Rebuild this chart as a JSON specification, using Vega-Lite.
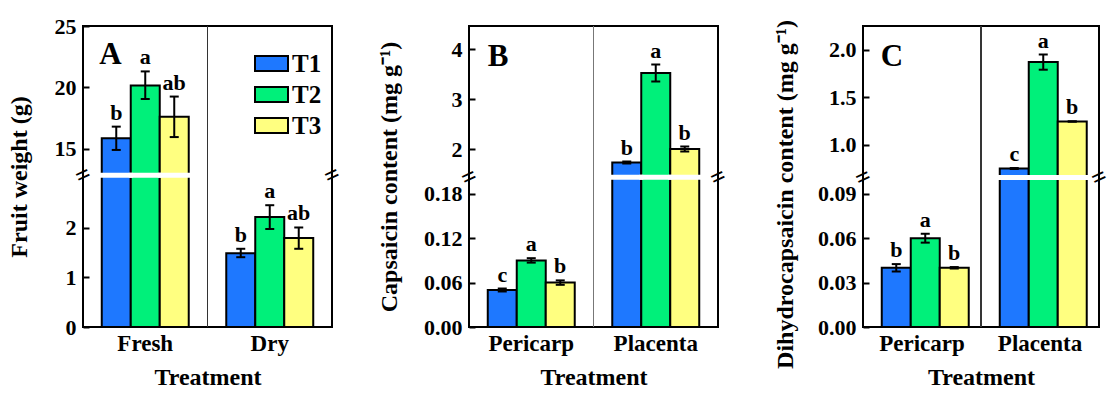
{
  "$schema": "https://vega.github.io/schema/vega-lite/v6.json",
  "background": "white",
  "padding": {"left": 6, "top": 14, "right": 0, "bottom": 4},
  "config": {
    "font": "Liberation Serif",
    "view": {"stroke": "black", "strokeWidth": 2},
    "axis": {"labelFont": "Liberation Serif", "labelFontWeight": "bold", "labelColor": "black", "titleFont": "Liberation Serif", "titleFontWeight": "bold", "titleColor": "black", "titleFontSize": 24, "labelFontSize": 22},
    "axisX": {"domain": false, "ticks": false, "grid": false, "labelPadding": 5, "labelFontSize": 23, "titlePadding": 10, "labelAngle": 0},
    "axisY": {"domain": false, "grid": false, "tickSize": -6, "tickWidth": 2, "tickColor": "black", "labelPadding": 13, "titlePadding": 16},
    "text": {"font": "Liberation Serif", "fontWeight": "bold", "color": "black"},
    "legend": {"labelFont": "Liberation Serif", "labelFontWeight": "bold", "labelColor": "black"}
  },
  "resolve": {"scale": {"color": "independent"}, "legend": {"color": "independent"}},
  "bounds": "flush",
  "spacing": 137,
  "hconcat": [
    {
      "width": 249,
      "height": 301,
      "data": {"values": [
        {"group": "Fresh", "trt": "T1", "mean": 15.85, "lo": 14.9, "hi": 16.8, "letter": "b"},
        {"group": "Fresh", "trt": "T2", "mean": 20.15, "lo": 19.05, "hi": 21.3, "letter": "a"},
        {"group": "Fresh", "trt": "T3", "mean": 17.6, "lo": 15.95, "hi": 19.25, "letter": "ab"},
        {"group": "Dry", "trt": "T1", "mean": 1.49, "lo": 1.41, "hi": 1.58, "letter": "b"},
        {"group": "Dry", "trt": "T2", "mean": 2.22, "lo": 1.98, "hi": 2.46, "letter": "a"},
        {"group": "Dry", "trt": "T3", "mean": 1.8, "lo": 1.58, "hi": 2.01, "letter": "ab"}
      ]},
      "layer": [
        {
          "mark": {"type": "rule", "color": "#333333", "strokeWidth": 1},
          "encoding": {"x": {"datum": "Dry", "type": "nominal", "bandPosition": 0, "scale": {"domain": ["Fresh", "Dry"], "paddingInner": 0, "paddingOuter": 0}}}
        },
        {
          "mark": {"type": "bar", "stroke": "black", "strokeWidth": 2, "opacity": 1},
          "encoding": {
            "x": {"field": "group", "type": "nominal", "scale": {"domain": ["Fresh", "Dry"], "paddingInner": 0, "paddingOuter": 0}, "title": "Treatment"},
            "xOffset": {"field": "trt", "type": "nominal", "scale": {"paddingInner": 0, "paddingOuter": 0.647}},
            "y": {"field": "mean", "type": "quantitative", "title": "Fruit weight (g)",
                  "scale": {"type": "linear", "domain": [0, 3.05, 12.9, 25], "range": [301, 150, 148.5, 0], "nice": false, "zero": false},
                  "axis": {"values": [0, 1, 2, 15, 20, 25], "titlePadding": 23}},
            "y2": {"datum": 0},
            "color": {"field": "trt", "type": "nominal", "scale": {"domain": ["T1", "T2", "T3"], "range": ["#1E78FF", "#00F07A", "#FFFF80"]},
                      "legend": {"title": null, "orient": "none", "legendX": 171, "legendY": 20, "symbolType": "M-1,-0.45L1,-0.45L1,0.45L-1,0.45Z", "symbolSize": 1089, "symbolStrokeColor": "black", "symbolStrokeWidth": 2, "symbolOpacity": 1, "labelFontSize": 25, "labelOffset": 3, "rowPadding": -3}}
          }
        },
        {
          "transform": [{"filter": "datum.mean > 3.05"}],
          "mark": {"type": "tick", "color": "white", "thickness": 5, "size": 33, "opacity": 1},
          "encoding": {
            "x": {"field": "group", "type": "nominal"},
            "xOffset": {"field": "trt", "type": "nominal"},
            "y": {"datum": 8}
          }
        },
        {
          "mark": {"type": "rule", "color": "black", "strokeWidth": 2},
          "encoding": {
            "x": {"field": "group", "type": "nominal"},
            "xOffset": {"field": "trt", "type": "nominal"},
            "y": {"field": "lo", "type": "quantitative"},
            "y2": {"field": "hi"}
          }
        },
        {
          "mark": {"type": "tick", "color": "black", "thickness": 2, "size": 9, "opacity": 1},
          "encoding": {
            "x": {"field": "group", "type": "nominal"},
            "xOffset": {"field": "trt", "type": "nominal"},
            "y": {"field": "hi", "type": "quantitative"}
          }
        },
        {
          "mark": {"type": "tick", "color": "black", "thickness": 2, "size": 9, "opacity": 1},
          "encoding": {
            "x": {"field": "group", "type": "nominal"},
            "xOffset": {"field": "trt", "type": "nominal"},
            "y": {"field": "lo", "type": "quantitative"}
          }
        },
        {
          "mark": {"type": "text", "fontSize": 22, "dy": -7, "baseline": "alphabetic"},
          "encoding": {
            "x": {"field": "group", "type": "nominal"},
            "xOffset": {"field": "trt", "type": "nominal"},
            "y": {"field": "hi", "type": "quantitative"},
            "text": {"field": "letter"}
          }
        },
        {
          "data": {"values": [{"label": "A"}]},
          "mark": {"type": "text", "fontSize": 31, "align": "left", "baseline": "alphabetic"},
          "encoding": {
            "x": {"datum": "Fresh", "type": "nominal", "bandPosition": 0.13},
            "y": {"datum": 21.9},
            "text": {"field": "label"}
          }
        },
        {
          "data": {"values": [{"label": "="}]},
          "mark": {"type": "text", "fontSize": 26, "angle": 335, "baseline": "middle"},
          "encoding": {
            "x": {"datum": "Fresh", "type": "nominal", "bandPosition": 0},
            "y": {"datum": 8},
            "text": {"field": "label"}
          }
        },
        {
          "data": {"values": [{"label": "="}]},
          "mark": {"type": "text", "fontSize": 26, "angle": 335, "baseline": "middle"},
          "encoding": {
            "x": {"datum": "Dry", "type": "nominal", "bandPosition": 1},
            "y": {"datum": 8},
            "text": {"field": "label"}
          }
        }
      ]
    },
    {
      "resolve": {"scale": {"color": "independent"}, "legend": {"color": "independent"}},
      "bounds": "flush",
      "spacing": 145,
      "hconcat": [
        {
          "width": 249,
          "height": 301,
          "data": {"values": [
            {"group": "Pericarp", "trt": "T1", "mean": 0.05, "lo": 0.048, "hi": 0.052, "letter": "c"},
            {"group": "Pericarp", "trt": "T2", "mean": 0.09, "lo": 0.087, "hi": 0.093, "letter": "a"},
            {"group": "Pericarp", "trt": "T3", "mean": 0.06, "lo": 0.057, "hi": 0.063, "letter": "b"},
            {"group": "Placenta", "trt": "T1", "mean": 1.73, "lo": 1.71, "hi": 1.75, "letter": "b"},
            {"group": "Placenta", "trt": "T2", "mean": 3.52, "lo": 3.35, "hi": 3.69, "letter": "a"},
            {"group": "Placenta", "trt": "T3", "mean": 2.0, "lo": 1.95, "hi": 2.05, "letter": "b"}
          ]},
          "layer": [
            {
              "mark": {"type": "rule", "color": "#777777", "strokeWidth": 1},
              "encoding": {"x": {"datum": "Placenta", "type": "nominal", "bandPosition": 0, "scale": {"domain": ["Pericarp", "Placenta"], "paddingInner": 0, "paddingOuter": 0}}}
            },
            {
              "mark": {"type": "bar", "stroke": "black", "strokeWidth": 2, "opacity": 1},
              "encoding": {
                "x": {"field": "group", "type": "nominal", "scale": {"domain": ["Pericarp", "Placenta"], "paddingInner": 0, "paddingOuter": 0}, "title": "Treatment"},
                "xOffset": {"field": "trt", "type": "nominal", "scale": {"paddingInner": 0, "paddingOuter": 0.647}},
                "y": {"field": "mean", "type": "quantitative", "title": "Capsaicin content (mg g⁻¹)",
                      "scale": {"type": "linear", "domain": [0, 0.2, 1.47, 4.46], "range": [301, 153, 149.5, 0], "nice": false, "zero": false},
                      "axis": {"values": [0, 0.06, 0.12, 0.18, 2, 3, 4], "titlePadding": 22, "labelExpr": "datum.value >= 1 ? format(datum.value, 'd') : format(datum.value, '.2f')"}},
                "y2": {"datum": 0},
                "color": {"field": "trt", "type": "nominal", "scale": {"domain": ["T1", "T2", "T3"], "range": ["#1E78FF", "#00F07A", "#FFFF80"]}, "legend": null}
              }
            },
            {
              "transform": [{"filter": "datum.mean > 0.2"}],
              "mark": {"type": "tick", "color": "white", "thickness": 5, "size": 33, "opacity": 1},
              "encoding": {
                "x": {"field": "group", "type": "nominal"},
                "xOffset": {"field": "trt", "type": "nominal"},
                "y": {"datum": 0.835}
              }
            },
            {
              "mark": {"type": "rule", "color": "black", "strokeWidth": 2},
              "encoding": {
                "x": {"field": "group", "type": "nominal"},
                "xOffset": {"field": "trt", "type": "nominal"},
                "y": {"field": "lo", "type": "quantitative"},
                "y2": {"field": "hi"}
              }
            },
            {
              "mark": {"type": "tick", "color": "black", "thickness": 2, "size": 9, "opacity": 1},
              "encoding": {
                "x": {"field": "group", "type": "nominal"},
                "xOffset": {"field": "trt", "type": "nominal"},
                "y": {"field": "hi", "type": "quantitative"}
              }
            },
            {
              "mark": {"type": "tick", "color": "black", "thickness": 2, "size": 9, "opacity": 1},
              "encoding": {
                "x": {"field": "group", "type": "nominal"},
                "xOffset": {"field": "trt", "type": "nominal"},
                "y": {"field": "lo", "type": "quantitative"}
              }
            },
            {
              "mark": {"type": "text", "fontSize": 22, "dy": -7, "baseline": "alphabetic"},
              "encoding": {
                "x": {"field": "group", "type": "nominal"},
                "xOffset": {"field": "trt", "type": "nominal"},
                "y": {"field": "hi", "type": "quantitative"},
                "text": {"field": "letter"}
              }
            },
            {
              "data": {"values": [{"label": "B"}]},
              "mark": {"type": "text", "fontSize": 31, "align": "left", "baseline": "alphabetic"},
              "encoding": {
                "x": {"datum": "Pericarp", "type": "nominal", "bandPosition": 0.15},
                "y": {"datum": 3.67},
                "text": {"field": "label"}
              }
            },
            {
              "data": {"values": [{"label": "="}]},
              "mark": {"type": "text", "fontSize": 26, "angle": 335, "baseline": "middle"},
              "encoding": {
                "x": {"datum": "Pericarp", "type": "nominal", "bandPosition": 0},
                "y": {"datum": 0.835},
                "text": {"field": "label"}
              }
            },
            {
              "data": {"values": [{"label": "="}]},
              "mark": {"type": "text", "fontSize": 26, "angle": 335, "baseline": "middle"},
              "encoding": {
                "x": {"datum": "Placenta", "type": "nominal", "bandPosition": 1},
                "y": {"datum": 0.835},
                "text": {"field": "label"}
              }
            }
          ]
        },
        {
          "width": 236,
          "height": 301,
          "data": {"values": [
            {"group": "Pericarp", "trt": "T1", "mean": 0.04, "lo": 0.0375, "hi": 0.0425, "letter": "b"},
            {"group": "Pericarp", "trt": "T2", "mean": 0.06, "lo": 0.057, "hi": 0.063, "letter": "a"},
            {"group": "Pericarp", "trt": "T3", "mean": 0.04, "lo": 0.0395, "hi": 0.0405, "letter": "b"},
            {"group": "Placenta", "trt": "T1", "mean": 0.75, "lo": 0.745, "hi": 0.755, "letter": "c"},
            {"group": "Placenta", "trt": "T2", "mean": 1.87, "lo": 1.79, "hi": 1.95, "letter": "a"},
            {"group": "Placenta", "trt": "T3", "mean": 1.245, "lo": 1.245, "hi": 1.245, "letter": "b"}
          ]},
          "layer": [
            {
              "mark": {"type": "rule", "color": "#333333", "strokeWidth": 1},
              "encoding": {"x": {"datum": "Placenta", "type": "nominal", "bandPosition": 0, "scale": {"domain": ["Pericarp", "Placenta"], "paddingInner": 0, "paddingOuter": 0}}}
            },
            {
              "mark": {"type": "bar", "stroke": "black", "strokeWidth": 2, "opacity": 1},
              "encoding": {
                "x": {"field": "group", "type": "nominal", "scale": {"domain": ["Pericarp", "Placenta"], "paddingInner": 0, "paddingOuter": 0}, "title": "Treatment"},
                "xOffset": {"field": "trt", "type": "nominal", "scale": {"paddingInner": 0, "paddingOuter": 0.53}},
                "y": {"field": "mean", "type": "quantitative", "title": "Dihydrocapsaicin content (mg g⁻¹)",
                      "scale": {"type": "linear", "domain": [0, 0.1, 0.668, 2.25], "range": [301, 153, 150.3, 0], "nice": false, "zero": false},
                      "axis": {"values": [0, 0.03, 0.06, 0.09, 1, 1.5, 2], "titlePadding": 20, "titleY": 168, "labelExpr": "datum.value >= 0.5 ? format(datum.value, '.1f') : format(datum.value, '.2f')"}},
                "y2": {"datum": 0},
                "color": {"field": "trt", "type": "nominal", "scale": {"domain": ["T1", "T2", "T3"], "range": ["#1E78FF", "#00F07A", "#FFFF80"]}, "legend": null}
              }
            },
            {
              "transform": [{"filter": "datum.mean > 0.1"}],
              "mark": {"type": "tick", "color": "white", "thickness": 5, "size": 33, "opacity": 1},
              "encoding": {
                "x": {"field": "group", "type": "nominal"},
                "xOffset": {"field": "trt", "type": "nominal"},
                "y": {"datum": 0.4}
              }
            },
            {
              "mark": {"type": "rule", "color": "black", "strokeWidth": 2},
              "encoding": {
                "x": {"field": "group", "type": "nominal"},
                "xOffset": {"field": "trt", "type": "nominal"},
                "y": {"field": "lo", "type": "quantitative"},
                "y2": {"field": "hi"}
              }
            },
            {
              "mark": {"type": "tick", "color": "black", "thickness": 2, "size": 9, "opacity": 1},
              "encoding": {
                "x": {"field": "group", "type": "nominal"},
                "xOffset": {"field": "trt", "type": "nominal"},
                "y": {"field": "hi", "type": "quantitative"}
              }
            },
            {
              "mark": {"type": "tick", "color": "black", "thickness": 2, "size": 9, "opacity": 1},
              "encoding": {
                "x": {"field": "group", "type": "nominal"},
                "xOffset": {"field": "trt", "type": "nominal"},
                "y": {"field": "lo", "type": "quantitative"}
              }
            },
            {
              "mark": {"type": "text", "fontSize": 22, "dy": -7, "baseline": "alphabetic"},
              "encoding": {
                "x": {"field": "group", "type": "nominal"},
                "xOffset": {"field": "trt", "type": "nominal"},
                "y": {"field": "hi", "type": "quantitative"},
                "text": {"field": "letter"}
              }
            },
            {
              "data": {"values": [{"label": "C"}]},
              "mark": {"type": "text", "fontSize": 31, "align": "left", "baseline": "alphabetic"},
              "encoding": {
                "x": {"datum": "Pericarp", "type": "nominal", "bandPosition": 0.15},
                "y": {"datum": 1.83},
                "text": {"field": "label"}
              }
            },
            {
              "data": {"values": [{"label": "="}]},
              "mark": {"type": "text", "fontSize": 26, "angle": 335, "baseline": "middle"},
              "encoding": {
                "x": {"datum": "Pericarp", "type": "nominal", "bandPosition": 0},
                "y": {"datum": 0.4},
                "text": {"field": "label"}
              }
            },
            {
              "data": {"values": [{"label": "="}]},
              "mark": {"type": "text", "fontSize": 26, "angle": 335, "baseline": "middle"},
              "encoding": {
                "x": {"datum": "Placenta", "type": "nominal", "bandPosition": 1},
                "y": {"datum": 0.4},
                "text": {"field": "label"}
              }
            }
          ]
        }
      ]
    }
  ]
}
